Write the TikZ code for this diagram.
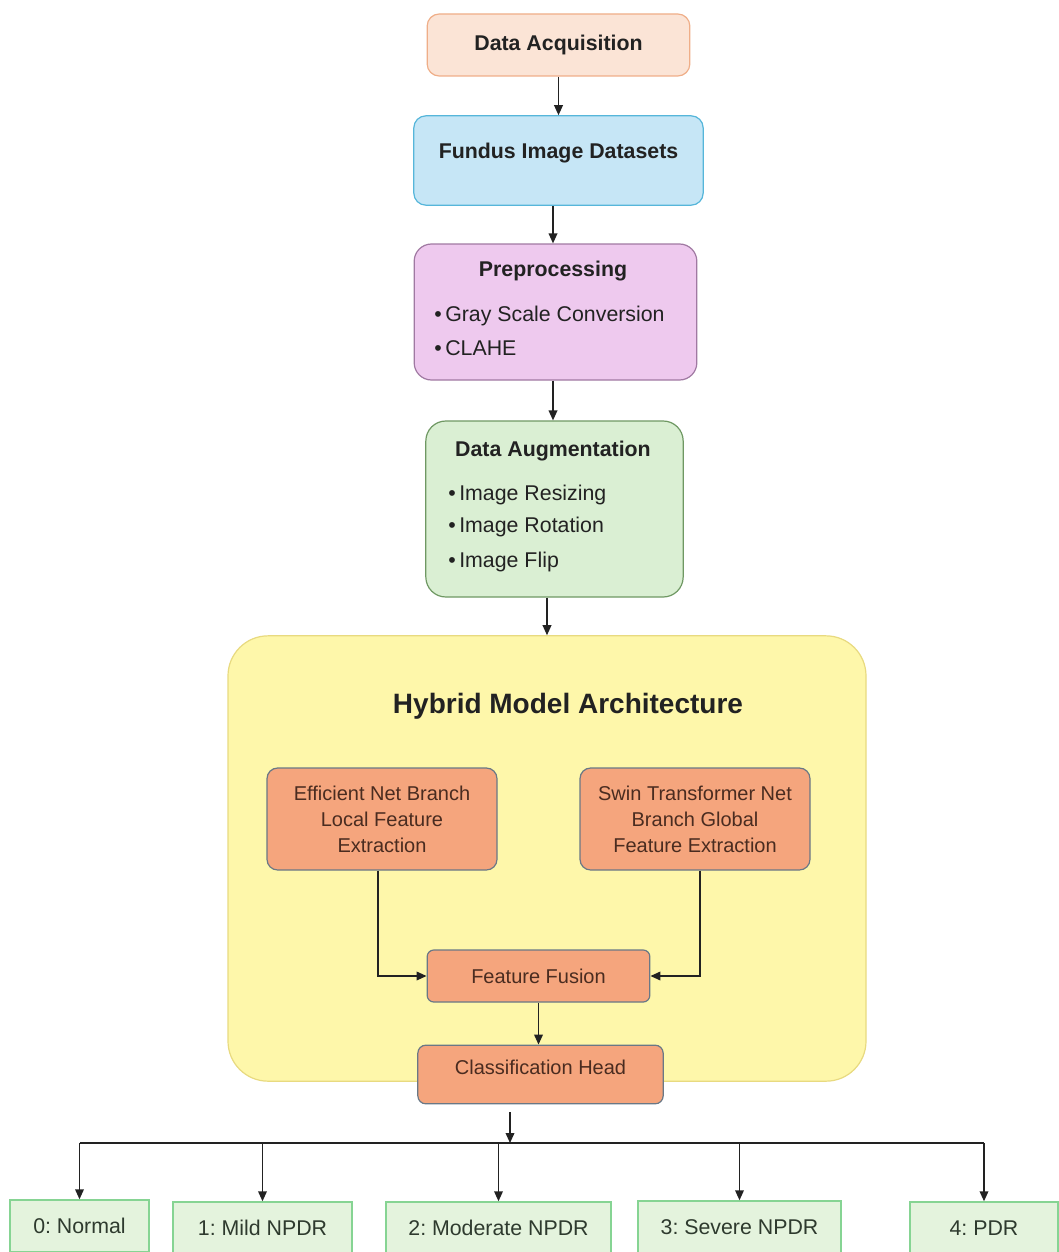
\documentclass[tikz,border=0pt]{standalone}
\usepackage{fontspec}
\setmainfont{Liberation Sans}
\usetikzlibrary{arrows.meta,positioning}
\frenchspacing

\definecolor{txtGray}{HTML}{222222}
\definecolor{branchTxt}{HTML}{4A2C20}
\definecolor{gradeTxt}{HTML}{2E3A2E}
\definecolor{acqFill}{HTML}{FBE4D6}
\definecolor{acqLine}{HTML}{EFAE88}
\definecolor{fundusFill}{HTML}{C6E6F6}
\definecolor{fundusLine}{HTML}{56B6DA}
\definecolor{prepFill}{HTML}{EEC9EE}
\definecolor{prepLine}{HTML}{A079A2}
\definecolor{augFill}{HTML}{DAEFD3}
\definecolor{augLine}{HTML}{6F9863}
\definecolor{hybridFill}{HTML}{FEF7AA}
\definecolor{hybridLine}{HTML}{E8DA80}
\definecolor{branchFill}{HTML}{F5A57D}
\definecolor{branchLine}{HTML}{6A7886}
\definecolor{gradeFill}{HTML}{E4F3DD}
\definecolor{gradeLine}{HTML}{86D493}

\begin{document}
\begin{tikzpicture}[x=0.75pt,y=-0.75pt]
    \tikzstyle{every node} = [font=\fontsize{16}{19}\selectfont, text=txtGray]
    \tikzstyle{block} = [draw, rectangle, rounded corners=9pt, line width=0.9pt, inner sep=0pt]
    \tikzstyle{branch} = [block, fill=branchFill, draw=branchLine, rounded corners=8pt, minimum width=172.5pt, minimum height=76.5pt, align=center, text=branchTxt, font=\fontsize{15}{19.5}\selectfont]
    \tikzstyle{grade} = [draw=gradeLine, fill=gradeFill, rectangle, line width=1.1pt, minimum height=39pt, inner sep=0pt, text=gradeTxt]
    \tikzstyle{title} = [font=\fontsize{16}{19}\selectfont\bfseries]
    \tikzstyle{item} = [anchor=west, inner sep=0pt]
    \tikzstyle{arr} = [-{Triangle[length=7.5pt,width=6.5pt]}, line width=1.1pt, draw=txtGray]

    \useasboundingbox (0,0) rectangle (1059,1252);

    % place nodes
    \node[block, fill=acqFill, draw=acqLine, minimum width=197pt, minimum height=46.5pt, title] (acquisition) at (558.5,45) {Data Acquisition};

    \node[block, fill=fundusFill, draw=fundusLine, minimum width=217pt, minimum height=67pt] (fundus) at (558.5,160.5) {};
    \node[title] (fundusTitle) at (558.5,153) {Fundus Image Datasets};

    \node[block, fill=prepFill, draw=prepLine, rounded corners=13pt, minimum width=212pt, minimum height=102pt] (prep) at (555.5,312) {};
    \node[title] (prepTitle) at (553,271) {Preprocessing};
    \node[item] (prepGray) at (434,316) {\textbullet\,Gray Scale Conversion};
    \node[item] (prepClahe) at (434,348) {\textbullet\,CLAHE};

    \node[block, fill=augFill, draw=augLine, rounded corners=15pt, minimum width=193pt, minimum height=132pt] (aug) at (554.5,509) {};
    \node[title] (augTitle) at (553,451) {Data Augmentation};
    \node[item] (augResize) at (448,495) {\textbullet\,Image Resizing};
    \node[item] (augRotate) at (448,527) {\textbullet\,Image Rotation};
    \node[item] (augFlip) at (448,562) {\textbullet\,Image Flip};

    \node[block, fill=hybridFill, draw=hybridLine, rounded corners=30pt, minimum width=478.5pt, minimum height=334pt] (hybrid) at (547,858.5) {};
    \node[font=\fontsize{21}{25}\selectfont\bfseries] (hybridTitle) at (568,706) {Hybrid Model Architecture};

    \node[branch] (efficient) at (382,819) {Efficient Net Branch\\Local Feature\\Extraction};
    \node[branch] (swin) at (695,819) {Swin Transformer Net\\Branch Global\\Feature Extraction};
    \node[branch, rounded corners=5pt, minimum width=167pt, minimum height=39pt] (fusion) at (538.5,976) {Feature Fusion};
    \node[branch, rounded corners=6pt, minimum width=184pt, minimum height=44pt] (classHead) at (540.5,1074.5) {};
    \node[font=\fontsize{15}{19}\selectfont, text=branchTxt] (classTitle) at (540.5,1067) {Classification Head};

    \node[grade, minimum width=104pt] (normal) at (79.5,1226) {0: Normal};
    \node[grade, minimum width=134pt] (mild) at (262.5,1228) {1: Mild NPDR};
    \node[grade, minimum width=169pt] (moderate) at (498.5,1228) {2: Moderate NPDR};
    \node[grade, minimum width=152pt] (severe) at (739.5,1227) {3: Severe NPDR};
    \node[grade, minimum width=111pt] (pdr) at (984,1228) {4: PDR};

    % columns of the vertical connectors
    \coordinate (colA) at (553,0);
    \coordinate (colB) at (547,0);
    \coordinate (colEff) at (378,0);
    \coordinate (colSwin) at (700,0);
    \coordinate (splitTop) at (510,1112);
    \coordinate (split) at (510,1143);

    % Connections
    \draw[arr] (acquisition.south) -- (acquisition.south |- fundus.north);
    \draw[arr] (colA |- fundus.south) -- (colA |- prep.north);
    \draw[arr] (colA |- prep.south) -- (colA |- aug.north);
    \draw[arr] (colB |- aug.south) -- (colB |- hybrid.north);
    \draw[arr] (colEff |- efficient.south) |- (fusion.west);
    \draw[arr] (colSwin |- swin.south) |- (fusion.east);
    \draw[arr] (fusion.south) -- (fusion.south |- classHead.north);
    \draw[arr] (splitTop) -- (split);
    \draw[line width=1.1pt, draw=txtGray] (split -| normal) -- (split -| pdr);
    \draw[arr] (split -| normal) -- (normal.north);
    \draw[arr] (split -| mild) -- (mild.north);
    \draw[arr] (split -| moderate) -- (moderate.north);
    \draw[arr] (split -| severe) -- (severe.north);
    \draw[arr] (split -| pdr) -- (pdr.north);
\end{tikzpicture}
\end{document}
